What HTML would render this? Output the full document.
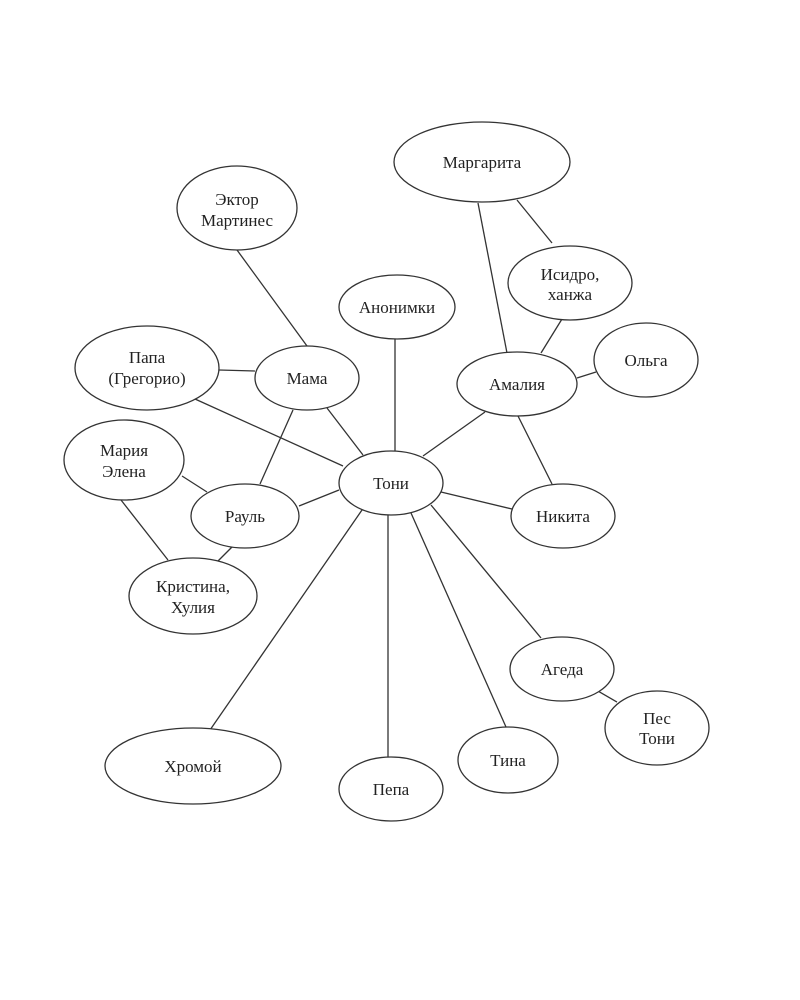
<!DOCTYPE html>
<html><head><meta charset="utf-8"><style>
html,body{margin:0;padding:0;background:#fff;}
svg{display:block;}
text{font-family:"Liberation Serif","DejaVu Serif",serif;font-size:17px;fill:#222;text-anchor:middle;}
</style></head><body>
<svg width="800" height="1000" viewBox="0 0 800 1000" xmlns="http://www.w3.org/2000/svg">
<g stroke="#333" stroke-width="1.3" fill="none">
<line x1="478" y1="203" x2="507" y2="353"/>
<line x1="517" y1="200" x2="552" y2="243"/>
<line x1="562" y1="319" x2="541" y2="353"/>
<line x1="596" y1="372" x2="577" y2="378"/>
<line x1="237" y1="250" x2="307" y2="346"/>
<line x1="219" y1="370" x2="255" y2="371"/>
<line x1="195" y1="399" x2="343" y2="466"/>
<line x1="327" y1="408" x2="363" y2="455"/>
<line x1="293" y1="410" x2="260" y2="484"/>
<line x1="395" y1="339" x2="395" y2="451"/>
<line x1="485" y1="412" x2="423" y2="456"/>
<line x1="518" y1="416" x2="552" y2="484"/>
<line x1="441" y1="492" x2="512" y2="509"/>
<line x1="339" y1="490" x2="299" y2="506"/>
<line x1="182" y1="476" x2="207" y2="492"/>
<line x1="121" y1="500" x2="168" y2="560"/>
<line x1="232" y1="547" x2="218" y2="561"/>
<line x1="362" y1="510" x2="210" y2="730"/>
<line x1="388" y1="515" x2="388" y2="757"/>
<line x1="411" y1="513" x2="506" y2="727"/>
<line x1="431" y1="505" x2="541" y2="638"/>
<line x1="598" y1="691" x2="617" y2="702"/>
</g>
<g stroke="#333" stroke-width="1.3" fill="#fff">
<ellipse cx="482" cy="162" rx="88" ry="40"/>
<ellipse cx="237" cy="208" rx="60" ry="42"/>
<ellipse cx="570" cy="283" rx="62" ry="37"/>
<ellipse cx="397" cy="307" rx="58" ry="32"/>
<ellipse cx="147" cy="368" rx="72" ry="42"/>
<ellipse cx="307" cy="378" rx="52" ry="32"/>
<ellipse cx="646" cy="360" rx="52" ry="37"/>
<ellipse cx="517" cy="384" rx="60" ry="32"/>
<ellipse cx="124" cy="460" rx="60" ry="40"/>
<ellipse cx="391" cy="483" rx="52" ry="32"/>
<ellipse cx="245" cy="516" rx="54" ry="32"/>
<ellipse cx="563" cy="516" rx="52" ry="32"/>
<ellipse cx="193" cy="596" rx="64" ry="38"/>
<ellipse cx="562" cy="669" rx="52" ry="32"/>
<ellipse cx="657" cy="728" rx="52" ry="37"/>
<ellipse cx="193" cy="766" rx="88" ry="38"/>
<ellipse cx="508" cy="760" rx="50" ry="33"/>
<ellipse cx="391" cy="789" rx="52" ry="32"/>
</g>
<text x="482" y="168">Маргарита</text>
<text x="237" y="205">Эктор</text><text x="237" y="226">Мартинес</text>
<text x="570" y="280">Исидро,</text><text x="570" y="300">ханжа</text>
<text x="397" y="313">Анонимки</text>
<text x="147" y="363">Папа</text><text x="147" y="384">(Грегорио)</text>
<text x="307" y="384">Мама</text>
<text x="646" y="366">Ольга</text>
<text x="517" y="390">Амалия</text>
<text x="124" y="456">Мария</text><text x="124" y="477">Элена</text>
<text x="391" y="489">Тони</text>
<text x="245" y="522">Рауль</text>
<text x="563" y="522">Никита</text>
<text x="193" y="592">Кристина,</text><text x="193" y="613">Хулия</text>
<text x="562" y="675">Агеда</text>
<text x="657" y="724">Пес</text><text x="657" y="744">Тони</text>
<text x="193" y="772">Хромой</text>
<text x="508" y="766">Тина</text>
<text x="391" y="795">Пепа</text>
</svg>
</body></html>
